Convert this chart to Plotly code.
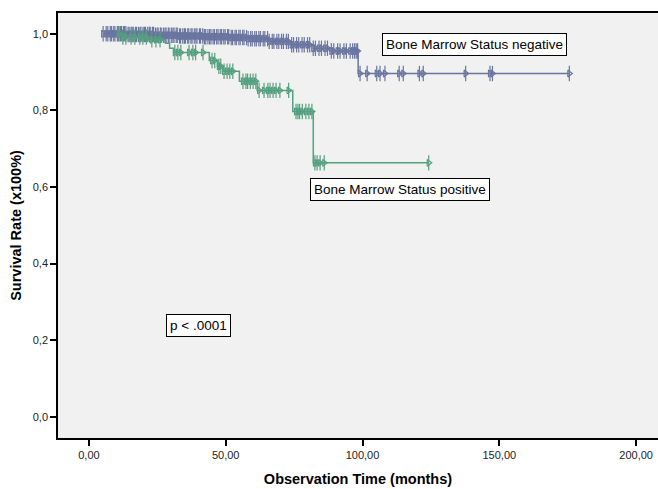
import plotly.graph_objects as go
import numpy as np

# ---- data ----
neg_step_times = [5.0, 14.0, 24.0, 33.0, 42.0, 52.0, 58.0, 65.5, 73.5, 82.0, 88.0, 98.4]
neg_step_surv = [1.000, 0.998, 0.996, 0.994, 0.992, 0.990, 0.987, 0.980, 0.971, 0.962, 0.955, 0.896]
neg_end = 175.6
neg_censor = [5.2, 6.3, 6.9, 7.8, 8.3, 9.1, 9.5, 10.4, 10.8, 11.5, 11.9, 12.6, 13.0, 13.5, 14.3,
              14.7, 15.4, 15.8, 16.2, 17.0, 17.4, 18.1, 18.7, 19.0, 19.8, 20.3, 20.7, 21.5, 22.1,
              22.4, 23.2, 23.6, 24.3, 24.9, 25.3, 26.1, 26.4, 27.2, 27.8, 28.2, 29.0, 29.3, 30.1,
              30.7, 31.1, 31.9, 32.3, 33.1, 33.5, 34.3, 34.9, 35.3, 36.1, 36.5, 37.3, 37.7, 38.5,
              39.1, 39.5, 40.4, 40.8, 41.6, 42.2, 42.7, 43.5, 44.1, 44.6, 45.4, 45.9, 46.7, 47.2,
              48.0, 48.5, 49.3, 49.8, 50.7, 51.1, 52.0, 52.5, 53.4, 53.9, 54.8, 55.3, 56.2, 56.7,
              57.6, 58.2, 59.1, 59.7, 60.6, 61.2, 62.1, 62.7, 63.7, 64.3, 65.3, 65.9, 67.0, 67.6,
              68.7, 69.4, 70.4, 71.1, 72.2, 72.9, 74.1, 74.8, 75.9, 76.7, 77.9, 78.7, 79.9, 80.7,
              82.0, 82.8, 84.1, 85.0, 86.3, 87.2, 88.6, 89.5, 90.9, 91.8, 93.2, 94.1, 95.5, 96.4,
              97.1, 97.7, 98.2,
              99.1, 101.7, 105.2, 106.4, 108.2, 113.4, 114.9, 120.8, 122.2, 137.7, 146.6, 147.5, 175.6]

pos_step_times = [10.0, 12.0, 21.6, 28.0, 29.5, 31.0, 44.0, 47.0, 49.0, 55.0, 61.5, 74.5, 82.0]
pos_step_surv = [1.000, 0.991, 0.984, 0.975, 0.962, 0.951, 0.930, 0.915, 0.902, 0.876, 0.852, 0.797, 0.663]
pos_end = 124.2
pos_censor = [11.0, 12.4, 13.5, 15.4, 16.8, 18.6, 19.7, 21.0, 23.0, 24.5, 26.0,
              31.4, 32.5, 33.6, 36.6, 38.0, 39.0, 41.7,
              45.0, 46.0, 47.5, 48.2, 49.4, 50.5, 51.5, 52.6,
              56.3, 57.4, 58.0, 59.0, 60.0, 61.0,
              62.2, 64.0, 65.4, 66.2, 67.3, 68.4, 69.8, 73.0,
              75.7, 76.4, 77.0, 78.0, 79.3, 80.4, 81.5,
              82.6, 83.4, 84.5, 86.0, 124.2]

x_ticks = [0, 50, 100, 150, 200]
y_ticks = [0.0, 0.2, 0.4, 0.6, 0.8, 1.0]

label_neg = "Bone Marrow Status negative"
label_pos = "Bone Marrow Status positive"
p_text = "p < .0001"

NEG_COLOR = "#6A75A0"
POS_COLOR = "#55A080"


def surv_at(t, times, surv):
    idx = np.searchsorted(np.array(times), t, side="right") - 1
    idx = max(idx, 0)
    return surv[idx]


fig = go.Figure()

for times, surv, end, cens, col in [
    (neg_step_times, neg_step_surv, neg_end, neg_censor, NEG_COLOR),
    (pos_step_times, pos_step_surv, pos_end, pos_censor, POS_COLOR),
]:
    xs = list(times) + [end]
    ys = list(surv) + [surv[-1]]
    fig.add_trace(go.Scatter(x=xs, y=ys, mode="lines", line=dict(color=col, width=1.5, shape="hv"),
                             showlegend=False, hoverinfo="skip"))
    cy = [surv_at(t, times, surv) for t in cens]
    fig.add_trace(go.Scatter(x=cens, y=cy, mode="markers",
                             marker=dict(symbol="line-ns-open", size=11, color=col,
                                         line=dict(color=col, width=1.2)),
                             showlegend=False, hoverinfo="skip"))
    fig.add_trace(go.Scatter(x=cens, y=cy, mode="markers",
                             marker=dict(symbol="triangle-right-open", size=6, color=col,
                                         line=dict(color=col, width=1.2)),
                             showlegend=False, hoverinfo="skip"))

ann_font = dict(family="Arial, Liberation Sans, sans-serif", size=13.5, color="black")
for text, x, y in [(label_neg, 141.1, 0.971), (label_pos, 113.7, 0.593), (p_text, 40.2, 0.2376)]:
    fig.add_annotation(x=x, y=y, text=text, showarrow=False, font=ann_font,
                       bgcolor="white", bordercolor="black", borderwidth=1, borderpad=3)

fig.update_layout(
    width=658, height=489,
    margin=dict(l=58, r=0, t=13, b=51),
    paper_bgcolor="white",
    plot_bgcolor="#F0F1F0",
    separators=",.",
    font=dict(family="Arial, Liberation Sans, sans-serif", size=11, color="#222222"),
    xaxis=dict(range=[-11.3, 208.0], tickvals=x_ticks, tickformat=".2f", automargin=False,
               showgrid=False, zeroline=False, showline=True, linecolor="black", linewidth=1.5,
               mirror=True, ticks="outside", ticklen=6, tickcolor="black", tickwidth=1.5,
               title=dict(text="<b>Observation Time (months)</b>", font=dict(size=14.5, color="black"),
                          standoff=14)),
    yaxis=dict(range=[-0.055, 1.054], tickvals=y_ticks, tickformat=".1f", automargin=False,
               showgrid=False, zeroline=False, showline=True, linecolor="black", linewidth=1.5,
               ticks="outside", ticklen=6, tickcolor="black", tickwidth=1.5,
               title=dict(text="<b>Survival Rate (x100%)</b>", font=dict(size=14.5, color="black"),
                          standoff=8)),
)

fig.write_html("out.html", config={"displayModeBar": False},
               post_script="document.body.style.margin='0';")
